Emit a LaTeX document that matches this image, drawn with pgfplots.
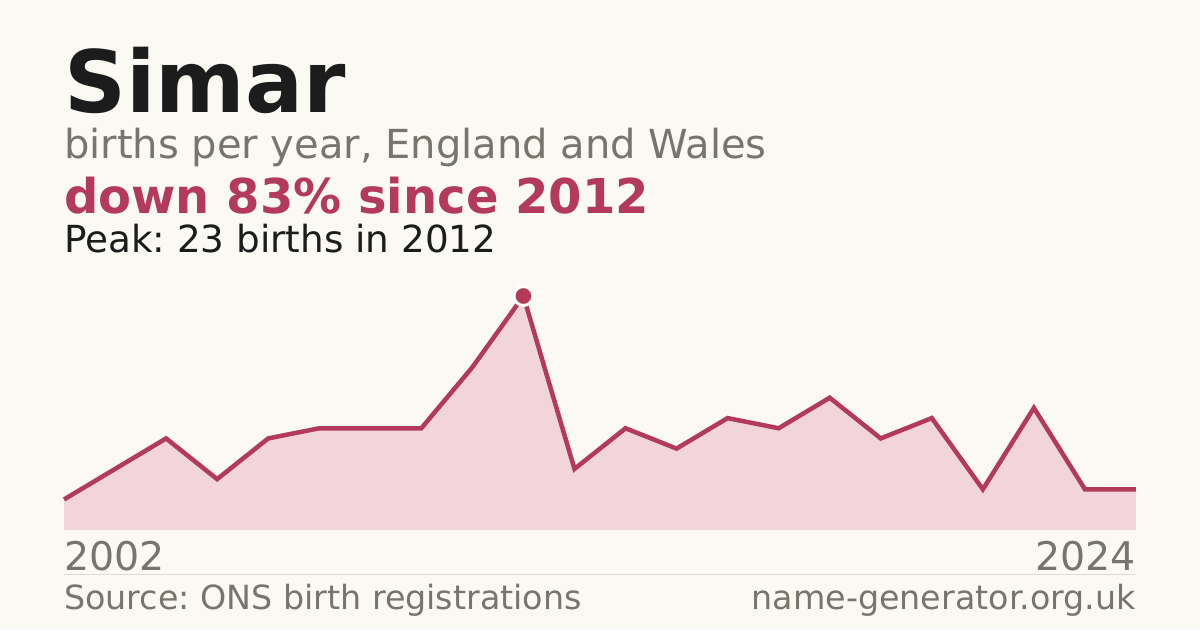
\documentclass[border=0pt]{standalone}
\usepackage{pgfplots}
\pgfplotsset{compat=1.18}
\usepackage{fontspec}
\setmainfont{DejaVu Sans}
\frenchspacing
\definecolor{bgc}{HTML}{FAF9F4}
\definecolor{crim}{HTML}{B33A5A}
\definecolor{fillc}{HTML}{F1D5DB}
\definecolor{grayt}{HTML}{7A756C}
\definecolor{darkt}{HTML}{1C1C1C}
\definecolor{sepc}{HTML}{DDDAD3}
\begin{document}
\begin{tikzpicture}[x=1pt,y=1pt]
\fill[bgc] (0,0) rectangle (1200,630);
\begin{axis}[
  at={(64pt,100pt)}, anchor=south west,
  scale only axis, width=1072pt, height=234pt,
  xmin=0, xmax=21, ymin=0, ymax=23,
  axis lines=none, ticks=none, clip=false,
]
\addplot[fill=fillc, draw=none] coordinates {
(0,3) (1,6) (2,9) (3,5) (4,9) (5,10) (6,10) (7,10) (8,16) (9,23) (10,6)
(11,10) (12,8) (13,11) (14,10) (15,13) (16,9) (17,11) (18,4) (19,12) (20,4) (21,4)
} \closedcycle;
\addplot[crim, line width=4.5pt, line join=miter] coordinates {
(0,3) (1,6) (2,9) (3,5) (4,9) (5,10) (6,10) (7,10) (8,16) (9,23) (10,6)
(11,10) (12,8) (13,11) (14,10) (15,13) (16,9) (17,11) (18,4) (19,12) (20,4) (21,4)
};
\addplot[only marks, mark=*, mark size=9.5pt, mark options={fill=crim, draw=white, line width=3pt}] coordinates {(9,23)};
\end{axis}
\node[anchor=base west, inner sep=0, text=darkt, font=\fontsize{86}{86}\selectfont\bfseries] at (64,517) {Simar};
\node[anchor=base west, inner sep=0, text=grayt, font=\fontsize{40}{40}\selectfont] at (64,471) {births per year, England and Wales};
\node[anchor=base west, inner sep=0, text=crim, font=\fontsize{48}{48}\selectfont\bfseries] at (64,416) {down 83\% since 2012};
\node[anchor=base west, inner sep=0, text=darkt, font=\fontsize{37.3}{37.3}\selectfont] at (64,377) {Peak: 23 births in 2012};
\node[anchor=base west, inner sep=0, text=grayt, font=\fontsize{39.5}{39.5}\selectfont] at (64,60) {2002};
\node[anchor=base east, inner sep=0, text=grayt, font=\fontsize{39.5}{39.5}\selectfont] at (1136,60) {2024};
\draw[sepc, line width=1pt] (64,56) -- (1136,56);
\node[anchor=base west, inner sep=0, text=grayt, font=\fontsize{33.3}{33.3}\selectfont] at (64,21) {Source: ONS birth registrations};
\node[anchor=base east, inner sep=0, text=grayt, font=\fontsize{33.3}{33.3}\selectfont] at (1136,21) {name-generator.org.uk};
\end{tikzpicture}
\end{document}
